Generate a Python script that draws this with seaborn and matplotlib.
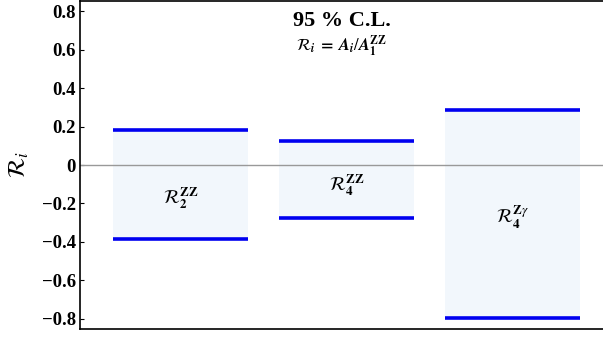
import numpy as np
import pandas as pd
import seaborn as sns
import matplotlib.pyplot as plt

# 95% C.L. intervals for the ratios R_i
labels = [r'$\mathcal{R}_\mathbf{2}^\mathbf{ZZ}$', r'$\mathcal{R}_\mathbf{4}^\mathbf{ZZ}$',
          r'$\mathcal{R}_\mathbf{4}^{\mathbf{Z}\gamma}$']
lower = [-0.382, -0.274, -0.797]
upper = [0.184, 0.127, 0.286]
label_y = [-0.17, -0.105, -0.27]
yticks = [-0.8, -0.6, -0.4, -0.2, 0, 0.2, 0.4, 0.6, 0.8]
ytick_labels = ['\u22120.8', '\u22120.6', '\u22120.4', '\u22120.2', '0', '0.2', '0.4', '0.6', '0.8']

df = pd.DataFrame({'name': ['R2ZZ', 'R4ZZ', 'R4Zg'], 'lo': lower, 'hi': upper})

sns.set_style('white')
plt.rcParams['font.family'] = ['Liberation Serif', 'DejaVu Serif']
plt.rcParams['mathtext.fontset'] = 'stix'
plt.rcParams['text.color'] = 'black'
plt.rcParams['ytick.color'] = 'black'
plt.rcParams['axes.labelcolor'] = 'black'

fig = plt.figure(figsize=(6.03, 3.37), dpi=100)
ax = fig.add_axes([80 / 603, 8 / 337, 523 / 603, 328 / 337])

fill = '#f2f7fc'
width = 0.81
# the band is drawn as two bars from zero, one up and one down
sns.barplot(data=df, x='name', y='hi', color=fill, width=width, saturation=1,
            linewidth=0, ax=ax)
sns.barplot(data=df, x='name', y='lo', color=fill, width=width, saturation=1,
            linewidth=0, ax=ax)

xs = np.arange(len(df))
ax.hlines(df['hi'], xs - width / 2, xs + width / 2, color='#0000f0', lw=2.6)
ax.hlines(df['lo'], xs - width / 2, xs + width / 2, color='#0000f0', lw=2.6)
ax.axhline(0, color='#999999', lw=1, zorder=1)

for x, y, t in zip(xs, label_y, labels):
    ax.text(x, y, t, ha='center', va='center', fontsize=13.5)

ax.text(0.5, 0.94, '95 % C.L.', transform=ax.transAxes, ha='center', va='center',
        fontsize=16, fontweight='bold')
ax.text(0.5, 0.862,
        r'$\mathcal{R}_{\mathbfit{i}}\;\mathbf{=}\;\mathbfit{A}_{\mathbfit{i}}/\mathbfit{A}_\mathbf{1}^\mathbf{ZZ}$',
        transform=ax.transAxes, ha='center', va='center', fontsize=12)

ax.set_xlim(-0.605, 2.545)
ax.set_ylim(-0.852, 0.852)
ax.set_yticks(yticks)
ax.set_yticklabels(ytick_labels, fontsize=13.5, fontweight='bold')
ax.set_xticks([])
ax.set_xlabel('')
ax.set_ylabel(r'$\mathcal{R}_i$', fontsize=17, labelpad=8)
ax.tick_params(axis='y', direction='in', length=3, width=0.8, left=True, pad=3)

for side in ['left', 'bottom', 'top']:
    ax.spines[side].set_color('black')
    ax.spines[side].set_linewidth(1.2)
ax.spines['right'].set_visible(False)

fig.savefig('out.png', dpi=100)
